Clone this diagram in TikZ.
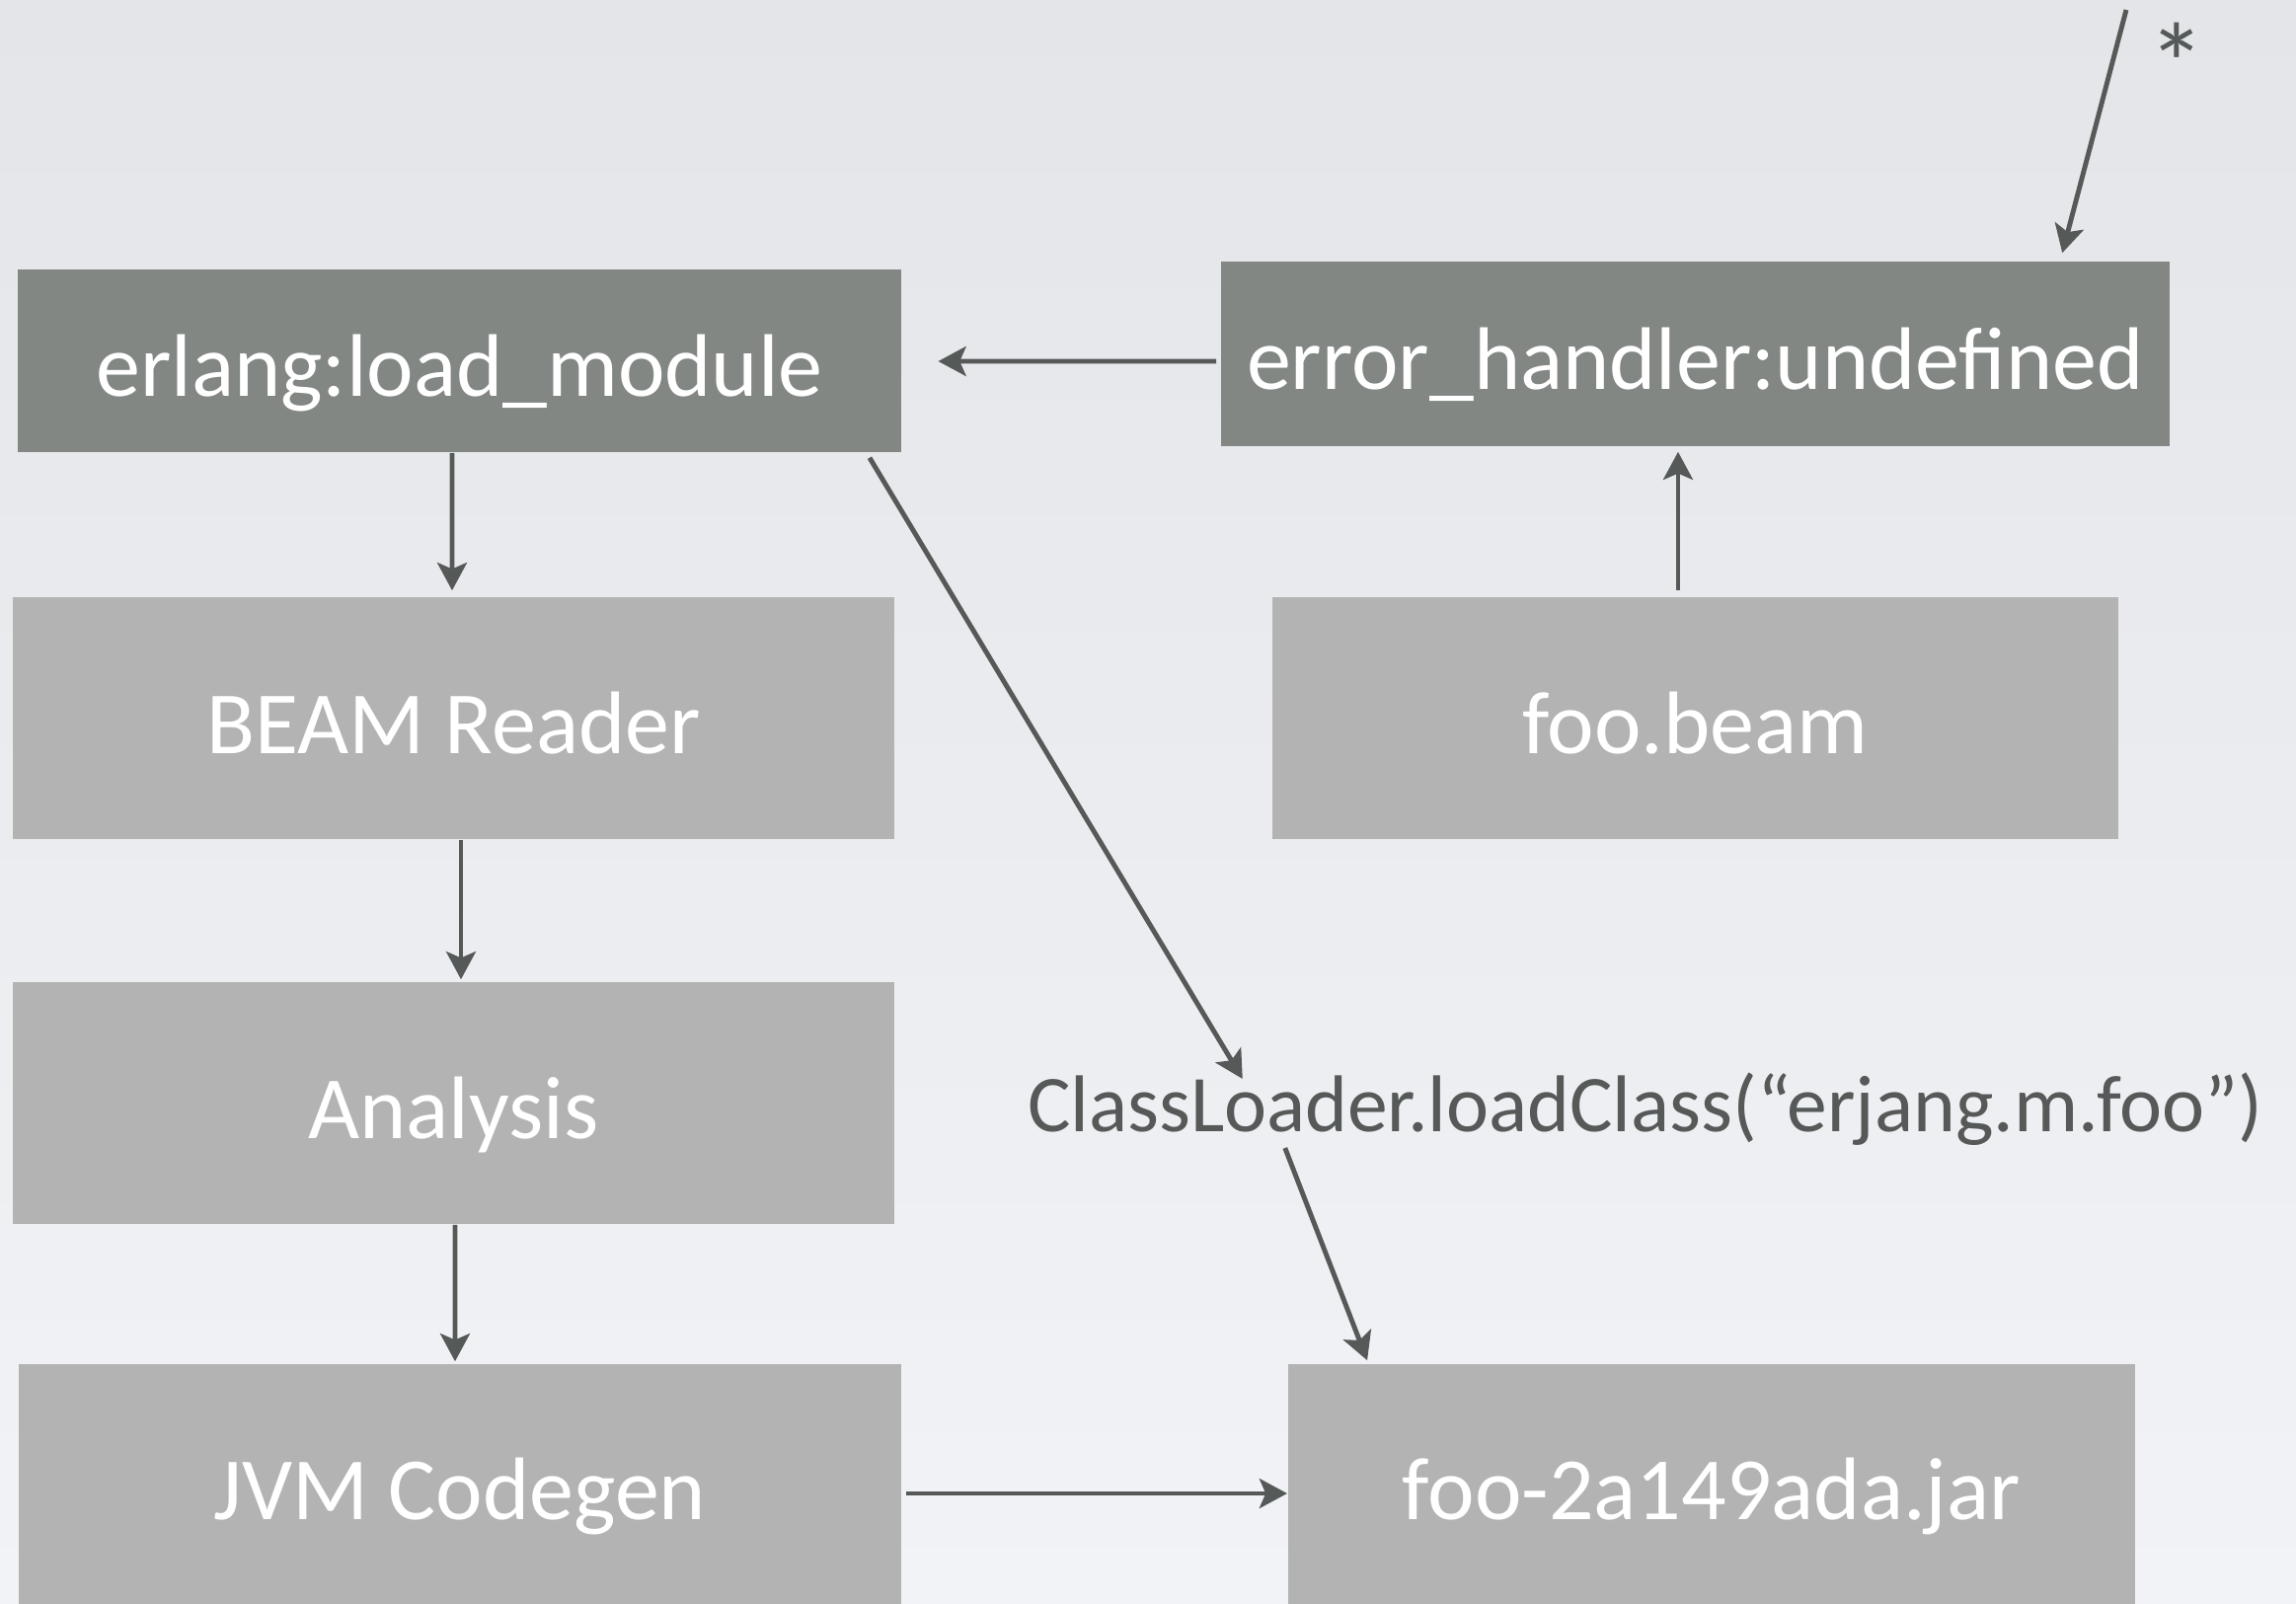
\documentclass[tikz,border=0pt]{standalone}
\usepackage{fontspec}
\setmainfont{Carlito}
\usetikzlibrary{arrows.meta}
\definecolor{boxdark}{HTML}{828784}
\definecolor{boxlight}{HTML}{B3B3B3}
\definecolor{arrowgray}{HTML}{555A58}
\definecolor{bgtop}{HTML}{E3E5E8}
\definecolor{bgbot}{HTML}{F2F3F6}
\begin{document}
\begin{tikzpicture}[x=0.01cm,y=-0.01cm,
  box/.style={rectangle, inner sep=0pt, text=white, text height=24.3pt, text depth=3.8pt, font=\fontsize{25.6}{30}\selectfont},
  darkbox/.style={box, fill=boxdark},
  lightbox/.style={box, fill=boxlight},
  arr/.style={draw=arrowgray, line width=1.4pt, -{Stealth[length=8pt,width=8.5pt,inset=1.8pt,fill=arrowgray]}}]
     \useasboundingbox (0,0) rectangle (2326,1625);
     \fill[top color=bgtop, bottom color=bgbot] (0,0) rectangle (2326,1625);
     \node[darkbox, minimum width=8.94cm, minimum height=1.85cm] (load) at (465.5,365.5) {erlang:load\_module};
     \node[darkbox, minimum width=9.61cm, minimum height=1.87cm] (errh) at (1717.5,358.5) {error\_handler:undefined};
     \node[lightbox, minimum width=8.93cm, minimum height=2.45cm] (beam) at (459.5,727.5) {BEAM Reader};
     \node[lightbox, minimum width=8.57cm, minimum height=2.45cm] (fbeam) at (1717.5,727.5) {foo.beam};
     \node[lightbox, minimum width=8.93cm, minimum height=2.45cm] (anal) at (459.5,1117.5) {Analysis};
     \node[lightbox, minimum width=8.94cm, minimum height=2.43cm] (jvm) at (466,1503.5) {JVM Codegen};
     \node[lightbox, minimum width=8.58cm, minimum height=2.43cm] (jar) at (1734,1503.5) {foo-2a149ada.jar};
     \node[anchor=base, text=arrowgray, inner sep=0pt, font=\fontsize{23.2}{27}\selectfont] (call) at (1667,1147) {ClassLoader.loadClass(“erjang.m.foo”)};
     \node[anchor=north, text=arrowgray, inner sep=0pt, font=\fontsize{33}{36}\selectfont] (star) at (2205,22) {*};
     \coordinate (caller) at (2154,10);
     \draw[arr] ([xshift=-0.075cm]load.south) -- ([xshift=-0.015cm,yshift=0.06cm]beam.north);
     \draw[arr] ([xshift=0.075cm]beam.south) -- ([xshift=0.075cm,yshift=0.02cm]anal.north);
     \draw[arr] ([xshift=0.015cm]anal.south) -- ([xshift=-0.05cm,yshift=0.02cm]jvm.north);
     \draw[arr] ([xshift=0.04cm,yshift=-0.095cm]jvm.east) -- ([yshift=-0.095cm]jar.west);
     \draw[arr] ([xshift=-0.175cm,yshift=0.06cm]fbeam.north) -- ([xshift=-0.175cm,yshift=-0.05cm]errh.south);
     \draw[arr] ([xshift=-0.04cm,yshift=-0.075cm]errh.west) -- ([xshift=0.37cm,yshift=-0.005cm]load.east);
     \draw[arr] (caller) -- ([xshift=3.715cm,yshift=0.08cm]errh.north);
     \draw[arr] ([xshift=-0.325cm,yshift=-0.05cm]load.south east) -- ([xshift=-4.08cm,yshift=0.54cm]call.base);
     \draw[arr] ([xshift=-3.65cm,yshift=-0.16cm]call.base) -- ([xshift=0.81cm,yshift=0.03cm]jar.north west);
\end{tikzpicture}
\end{document}
